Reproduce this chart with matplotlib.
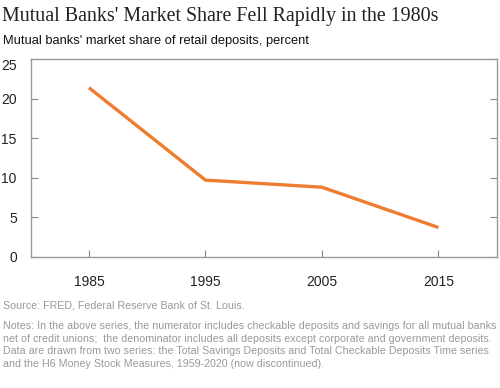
import matplotlib
matplotlib.use("Agg")
import matplotlib.pyplot as plt
import matplotlib.transforms as mtransforms

years = [1985, 1995, 2005, 2015]
share = [21.4, 9.7, 8.8, 3.7]
yticks = [0, 5, 10, 15, 20, 25]

title = "Mutual Banks' Market Share Fell Rapidly in the 1980s"
subtitle = "Mutual banks' market share of retail deposits, percent"
source = "Source: FRED, Federal Reserve Bank of St. Louis."
notes = ("Notes: In the above series, the numerator includes checkable deposits and savings for all mutual banks\n"
         "net of credit unions;  the denominator includes all deposits except corporate and government deposits.\n"
         "Data are drawn from two series: the Total Savings Deposits and Total Checkable Deposits Time series\n"
         "and the H6 Money Stock Measures, 1959-2020 (now discontinued).")

W, H = 500, 388
fig = plt.figure(figsize=(W/100, H/100), dpi=100)
ax = fig.add_axes([30.7/W, 1-256.7/H, (496.7-30.7)/W, (256.7-59.3)/H])

ax.plot(years, share, color="#ee7d31", lw=2.4, solid_capstyle="butt")
ax.set_xlim(1980, 2020)
ax.set_ylim(0, 25)
ax.set_xticks(years)
ax.set_yticks(yticks)
ax.tick_params(axis="both", direction="in", length=5, color="#888888", width=0.8,
               labelsize=10, labelcolor="#222222")
ax.tick_params(axis="y", right=True, pad=10)
ax.tick_params(axis="x", pad=13)
for lab in ax.get_xticklabels() + ax.get_yticklabels():
    lab.set_family("Liberation Sans")
for s in ax.spines.values():
    s.set_color("#999999")
    s.set_linewidth(1.0)

# top y label sits a little below the frame line
top_lab = ax.get_yticklabels()[-1]
top_lab.set_transform(top_lab.get_transform() +
                      mtransforms.ScaledTranslation(0, -5/100, fig.dpi_scale_trans))

fig.text(2/W, 1-17/H, title, family="Liberation Serif", fontsize=14.4, color="#222222", va="center")
fig.text(3/W, 1-41/H, subtitle, family="Liberation Sans", fontsize=9.3, color="#111111", va="center")
fig.text(3/W, 1-305.7/H, source, family="Liberation Sans", fontsize=7.65, color="#999999", va="center")
fig.text(3/W, 1-321/H, notes, family="Liberation Sans", fontsize=7.65, color="#999999", va="top",
         linespacing=1.33)

fig.savefig("out.png", dpi=100)
